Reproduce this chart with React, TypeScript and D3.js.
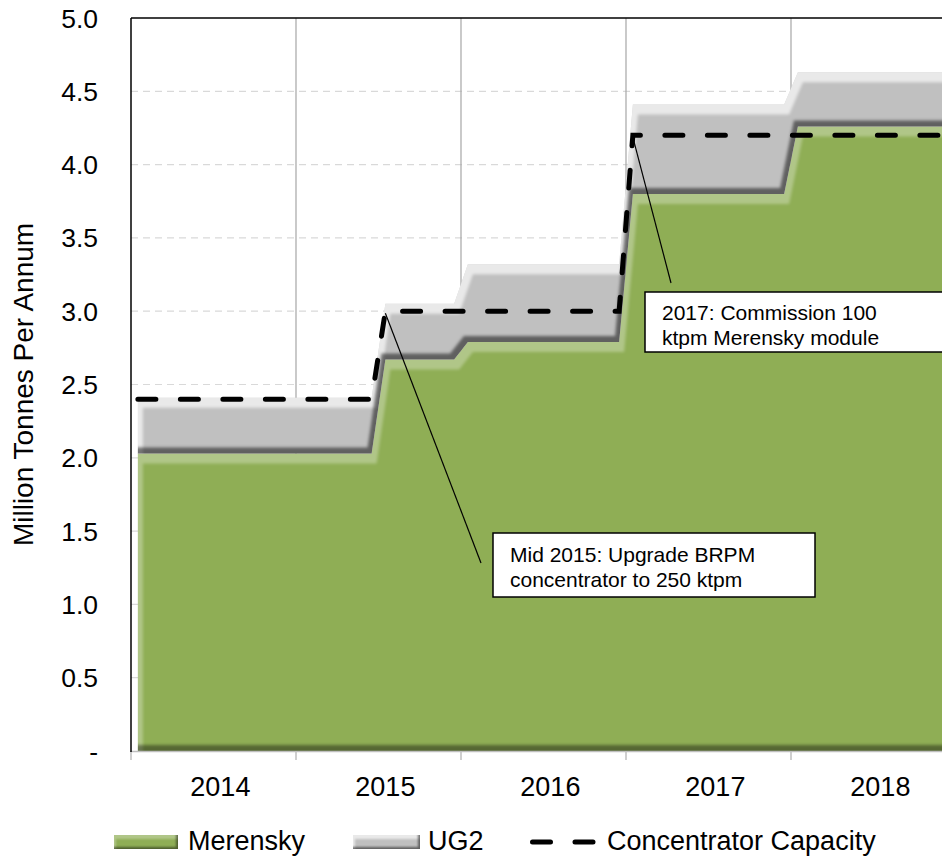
import * as d3 from "d3";

// monthly data, Jan 2014 .. Dec 2018
const years = ["2014", "2015", "2016", "2017", "2018"];
const monthNames = ["Jan", "Feb", "Mar", "Apr", "May", "Jun", "Jul", "Aug", "Sep", "Oct", "Nov", "Dec"];
const months = years.flatMap((y) => monthNames.map((m) => `${m} ${y}`));

const merensky = [
  2.03, 2.03, 2.03, 2.03, 2.03, 2.03, 2.03, 2.03, 2.03, 2.03, 2.03, 2.03,
  2.03, 2.03, 2.03, 2.03, 2.03, 2.03, 2.67, 2.67, 2.67, 2.67, 2.67, 2.67,
  2.79, 2.79, 2.79, 2.79, 2.79, 2.79, 2.79, 2.79, 2.79, 2.79, 2.79, 2.79,
  3.8, 3.8, 3.8, 3.8, 3.8, 3.8, 3.8, 3.8, 3.8, 3.8, 3.8, 3.8,
  4.26, 4.26, 4.26, 4.26, 4.26, 4.26, 4.26, 4.26, 4.26, 4.26, 4.26, 4.26,
];

const ug2 = [
  0.38, 0.38, 0.38, 0.38, 0.38, 0.38, 0.38, 0.38, 0.38, 0.38, 0.38, 0.38,
  0.38, 0.38, 0.38, 0.38, 0.38, 0.38, 0.38, 0.38, 0.38, 0.38, 0.38, 0.38,
  0.53, 0.53, 0.53, 0.53, 0.53, 0.53, 0.53, 0.53, 0.53, 0.53, 0.53, 0.53,
  0.61, 0.61, 0.61, 0.61, 0.61, 0.61, 0.61, 0.61, 0.61, 0.61, 0.61, 0.61,
  0.37, 0.37, 0.37, 0.37, 0.37, 0.37, 0.37, 0.37, 0.37, 0.37, 0.37, 0.37,
];

const capacity = [
  2.4, 2.4, 2.4, 2.4, 2.4, 2.4, 2.4, 2.4, 2.4, 2.4, 2.4, 2.4,
  2.4, 2.4, 2.4, 2.4, 2.4, 2.4, 3.0, 3.0, 3.0, 3.0, 3.0, 3.0,
  3.0, 3.0, 3.0, 3.0, 3.0, 3.0, 3.0, 3.0, 3.0, 3.0, 3.0, 3.0,
  4.2, 4.2, 4.2, 4.2, 4.2, 4.2, 4.2, 4.2, 4.2, 4.2, 4.2, 4.2,
  4.2, 4.2, 4.2, 4.2, 4.2, 4.2, 4.2, 4.2, 4.2, 4.2, 4.2, 4.2,
];

const yTicks = [0, 0.5, 1, 1.5, 2, 2.5, 3, 3.5, 4, 4.5, 5];

const notes = [
  { lines: ["Mid 2015: Upgrade BRPM", "concentrator to 250 ktpm"], month: "Jul 2015", value: 3.0 },
  { lines: ["2017: Commission 100", "ktpm Merensky module"], month: "Jan 2017", value: 4.2 },
];

const width = 942;
const height = 857;
const left = 131;
const top = 18;
const bottom = 751;
const font = "Arial, 'Liberation Sans', sans-serif";
const green = "#8FAE55";
const grey = "#C0C0C0";

// rough stand-in for Excel's bevel: light band top/left, dark band bottom/right
function Bevel({ id, blur, off, hi, lo }: { id: string; blur: number; off: number; hi: number; lo: number }) {
  return (
    <filter id={id} x="-5%" y="-20%" width="110%" height="140%" colorInterpolationFilters="sRGB">
      <feGaussianBlur in="SourceAlpha" stdDeviation={blur} result="b" />
      <feOffset in="b" dx={off * 0.45} dy={off} result="down" />
      <feComposite in="SourceAlpha" in2="down" operator="out" result="topBand" />
      <feFlood floodColor="#fff" floodOpacity={hi} />
      <feComposite in2="topBand" operator="in" result="hiLayer" />
      <feOffset in="b" dx={-off * 0.45} dy={-off * 0.65} result="up" />
      <feComposite in="SourceAlpha" in2="up" operator="out" result="botBand" />
      <feFlood floodColor="#000" floodOpacity={lo} />
      <feComposite in2="botBand" operator="in" result="loLayer" />
      <feMerge>
        <feMergeNode in="SourceGraphic" />
        <feMergeNode in="hiLayer" />
        <feMergeNode in="loLayer" />
      </feMerge>
    </filter>
  );
}

export default function App() {
  const x = d3.scaleBand().domain(months).range([left, left + 60 * 13.75]).padding(0);
  const cx = (m: string) => x(m)! + x.bandwidth() / 2;
  const y = d3.scaleLinear().domain([0, 5]).range([bottom, top]);

  const rows = months.map((m, i) => ({ month: m, Merensky: merensky[i], UG2: ug2[i], cap: capacity[i] }));
  const stacked = d3.stack<any>().keys(["Merensky", "UG2"])(rows);

  const area = d3
    .area<any>()
    .x((d) => cx(d.data.month))
    .y0((d) => y(d[0]))
    .y1((d) => y(d[1]));

  const capLine = d3
    .line<any>()
    .x((d) => cx(d.month))
    .y((d) => y(d.cap));

  const yearStarts = years.map((yr) => x(`Jan ${yr}`)!);

  return (
    <div style={{ position: "absolute", left: 0, top: 0 }}>
      <svg width={width} height={height} style={{ display: "block", background: "#fff" }} fontFamily={font}>
        <defs>
          <Bevel id="bevelG" blur={1.8} off={10} hi={0.3} lo={0.4} />
          <Bevel id="bevelU" blur={1.8} off={10} hi={0.65} lo={0.5} />
          <Bevel id="bevelGs" blur={0.8} off={3.5} hi={0.3} lo={0.45} />
          <Bevel id="bevelUs" blur={0.8} off={3.5} hi={0.65} lo={0.5} />
        </defs>

        {/* gridlines */}
        {yTicks.filter((t) => t > 0 && t < 5).map((t) => (
          <line key={t} x1={left} x2={width} y1={y(t)} y2={y(t)} stroke="#D9D9D9" strokeWidth={1.2} strokeDasharray="7 5" />
        ))}
        {yearStarts.slice(1).map((xs, i) => (
          <line key={i} x1={xs} x2={xs} y1={top} y2={bottom} stroke="#A6A6A6" strokeWidth={1.2} />
        ))}

        {/* areas */}
        {stacked.map((s) => (
          <path
            key={s.key}
            d={area(s)!}
            fill={s.key === "Merensky" ? green : grey}
            filter={s.key === "Merensky" ? "url(#bevelG)" : "url(#bevelU)"}
          />
        ))}

        {/* capacity */}
        <path d={capLine(rows)!} fill="none" stroke="#000" strokeWidth={5} strokeDasharray="18 24.5" strokeLinecap="round" />

        {/* axes */}
        <line x1={left} x2={width} y1={bottom + 0.5} y2={bottom + 0.5} stroke="#BFBFBF" strokeWidth={1.5} />
        {yearStarts.map((xs, i) => (
          <line key={i} x1={xs} x2={xs} y1={bottom} y2={bottom + 9} stroke="#BFBFBF" strokeWidth={1.5} />
        ))}
        <line x1={left} x2={left} y1={top} y2={bottom + 1} stroke="#000" strokeWidth={1.5} />
        <line x1={left} x2={width} y1={top} y2={top} stroke="#000" strokeWidth={1.5} />

        {yTicks.map((t) => (
          <text key={t} x={98} y={y(t)} dy="0.36em" textAnchor="end" fontSize={26.5} fill="#000">
            {t === 0 ? "-" : d3.format(".1f")(t)}
          </text>
        ))}
        {years.map((yr) => (
          <text key={yr} x={cx(`Jul ${yr}`)} y={796} textAnchor="middle" fontSize={27} fill="#000">
            {yr}
          </text>
        ))}
        <text transform={`translate(33,${(top + bottom) / 2}) rotate(-90)`} textAnchor="middle" fontSize={28} fill="#000">
          Million Tonnes Per Annum
        </text>

        {/* annotations */}
        <line x1={cx(notes[0].month)} y1={y(notes[0].value) + 2} x2={481} y2={563} stroke="#000" strokeWidth={1.2} />
        <rect x={493} y={533} width={322} height={64} fill="#fff" stroke="#000" strokeWidth={1.5} />
        {notes[0].lines.map((l, i) => (
          <text key={i} x={510} y={562 + i * 25} fontSize={21} fill="#000">{l}</text>
        ))}
        <line x1={cx(notes[1].month)} y1={y(notes[1].value) + 2} x2={671} y2={283} stroke="#000" strokeWidth={1.2} />
        <rect x={645} y={292} width={320} height={60} fill="#fff" stroke="#000" strokeWidth={1.5} />
        {notes[1].lines.map((l, i) => (
          <text key={i} x={662} y={320 + i * 25} fontSize={21} fill="#000">{l}</text>
        ))}

        {/* legend */}
        <rect x={114} y={835} width={64} height={14} fill={green} filter="url(#bevelGs)" />
        <text x={188} y={850} fontSize={27} fill="#000">Merensky</text>
        <rect x={353} y={835} width={67} height={14} fill={grey} filter="url(#bevelUs)" />
        <text x={428} y={850} fontSize={27} fill="#000">UG2</text>
        <line x1={532.5} x2={593} y1={842} y2={842} stroke="#000" strokeWidth={5} strokeDasharray="18 24.5" strokeLinecap="round" />
        <text x={607} y={850} fontSize={27} fill="#000">Concentrator Capacity</text>
      </svg>
    </div>
  );
}
